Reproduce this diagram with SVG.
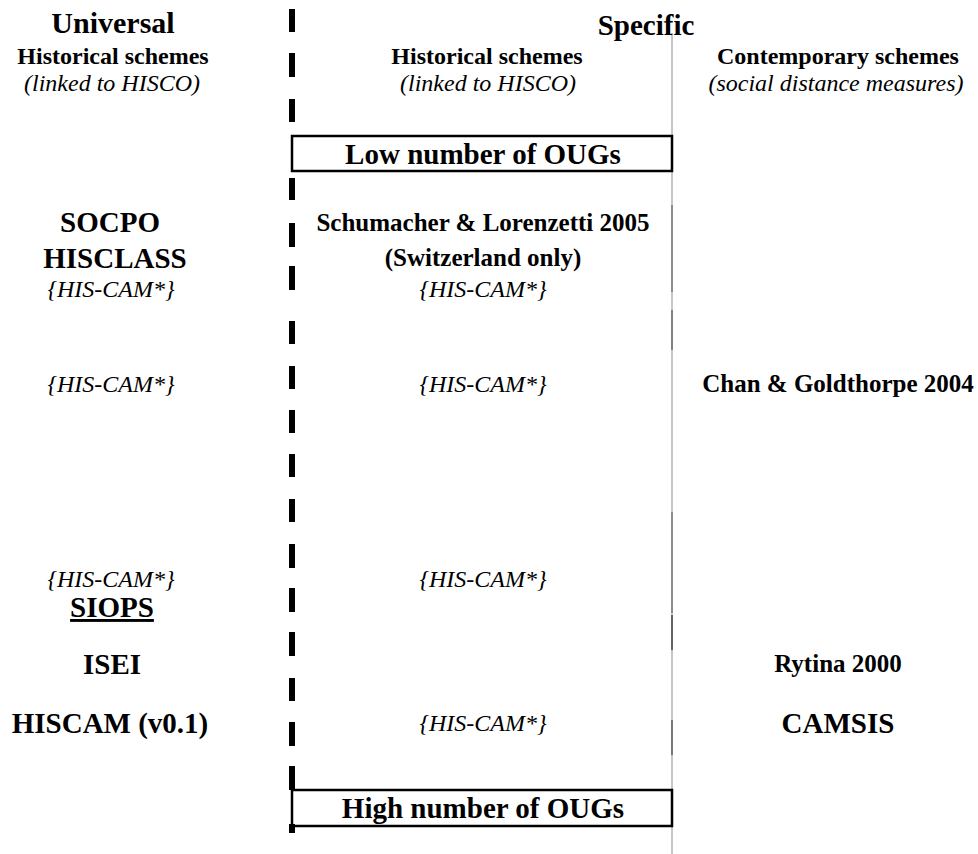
<svg xmlns="http://www.w3.org/2000/svg" width="978" height="854" viewBox="0 0 978 854" font-family="'Liberation Serif', 'DejaVu Serif', serif">
<style>
text{font-family:'Liberation Serif','DejaVu Serif',serif;fill:#000;text-anchor:middle}
.h1{font-size:30px;font-weight:bold}
.h2{font-size:24px;font-weight:bold}
.it{font-size:24px;font-style:italic}
.big{font-size:29px;font-weight:bold}
.med{font-size:25px;font-weight:bold}
.box{fill:none;stroke:#000;stroke-width:2.5}
.dash{fill:#000}
</style>
<rect width="978" height="854" fill="#fff"/>
<g id="connectors">
  <g id="divider-dashed">
    <rect class="dash" x="289" y="9" width="6" height="23"/>
    <rect class="dash" x="289" y="53" width="6" height="24"/>
    <rect class="dash" x="289" y="99" width="6" height="23"/>
    <rect class="dash" x="289" y="178" width="6" height="22"/>
    <rect class="dash" x="289" y="223" width="6" height="24"/>
    <rect class="dash" x="289" y="266" width="6" height="24"/>
    <rect class="dash" x="289" y="321" width="6" height="23"/>
    <rect class="dash" x="289" y="366" width="6" height="23"/>
    <rect class="dash" x="289" y="410" width="6" height="23"/>
    <rect class="dash" x="289" y="454" width="6" height="23"/>
    <rect class="dash" x="289" y="499" width="6" height="23"/>
    <rect class="dash" x="289" y="544" width="6" height="24"/>
    <rect class="dash" x="289" y="588" width="6" height="24"/>
    <rect class="dash" x="289" y="632" width="6" height="24"/>
    <rect class="dash" x="289" y="678" width="6" height="23"/>
    <rect class="dash" x="289" y="722" width="6" height="24"/>
    <rect class="dash" x="289" y="766" width="6" height="24"/>
    <rect class="dash" x="289" y="824" width="6" height="9"/>
  </g>
  <g id="divider-gray">
    <line x1="672" y1="33" x2="672" y2="854" stroke="#a0a0a0" stroke-width="1.2"/>
    <line x1="672" y1="205" x2="672" y2="292" stroke="#666" stroke-width="1.2"/>
    <line x1="672" y1="310" x2="672" y2="350" stroke="#555" stroke-width="1.2"/>
    <line x1="672" y1="512" x2="672" y2="613" stroke="#666" stroke-width="1.2"/>
    <line x1="672" y1="615" x2="672" y2="650" stroke="#222" stroke-width="1.2"/>
    <line x1="672" y1="720" x2="672" y2="755" stroke="#444" stroke-width="1.2"/>
  </g>
</g>
<g id="header-universal">
  <text class="h1" x="113" y="33">Universal</text>
  <text class="h2" x="113" y="64">Historical schemes</text>
  <text class="it" x="112" y="91">(linked to HISCO)</text>
</g>
<g id="header-specific">
  <text class="big" x="646" y="35">Specific</text>
  <text class="h2" x="487" y="64">Historical schemes</text>
  <text class="it" x="488" y="91">(linked to HISCO)</text>
  <text class="h2" x="838" y="64">Contemporary schemes</text>
  <text class="it" x="836" y="91">(social distance measures)</text>
</g>
<g id="low-ougs">
  <rect class="box" x="292" y="136" width="380" height="35"/>
  <text class="big" x="483" y="164">Low number of OUGs</text>
</g>
<g id="socpo-hisclass">
  <text class="big" x="110" y="232">SOCPO</text>
  <text class="big" x="115" y="268">HISCLASS</text>
  <text class="it" x="111" y="297">{HIS-CAM*}</text>
</g>
<g id="schumacher">
  <text class="med" x="483" y="231">Schumacher &amp; Lorenzetti 2005</text>
  <text class="med" x="483" y="266">(Switzerland only)</text>
  <text class="it" x="483" y="297">{HIS-CAM*}</text>
</g>
<g id="row-chan">
  <text class="it" x="111" y="392">{HIS-CAM*}</text>
  <text class="it" x="483" y="392">{HIS-CAM*}</text>
  <text class="med" x="838" y="392">Chan &amp; Goldthorpe 2004</text>
</g>
<g id="row-siops">
  <text class="it" x="111" y="587">{HIS-CAM*}</text>
  <text class="it" x="483" y="587">{HIS-CAM*}</text>
  <text class="big" x="112" y="617" text-decoration="underline">SIOPS</text>
</g>
<g id="row-isei">
  <text class="big" x="112" y="674">ISEI</text>
  <text class="med" x="838" y="672">Rytina 2000</text>
</g>
<g id="row-hiscam">
  <text class="big" x="110" y="733">HISCAM (v0.1)</text>
  <text class="it" x="483" y="731">{HIS-CAM*}</text>
  <text class="big" x="838" y="733">CAMSIS</text>
</g>
<g id="high-ougs">
  <rect class="box" x="292" y="790" width="380" height="36"/>
  <text class="big" x="483" y="818">High number of OUGs</text>
</g>
</svg>
